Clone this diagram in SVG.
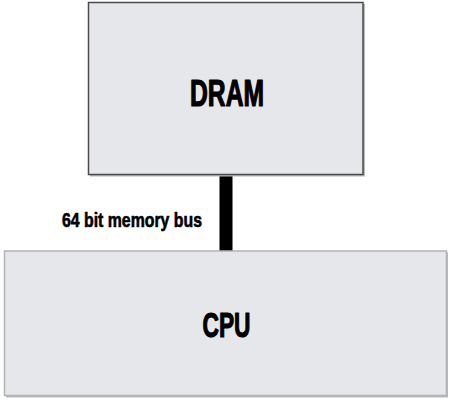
<svg xmlns="http://www.w3.org/2000/svg" width="452" height="406" viewBox="0 0 452 406">
<style>
.box{fill:#e6e7eb}
.shadow{fill:#b9b9bb}
.lbl{font-family:"Liberation Sans Narrow","Liberation Sans",Arial,sans-serif;font-weight:bold;fill:#000;stroke:#000;stroke-linejoin:round}
</style>
<rect width="452" height="406" fill="#ffffff"/>
<g id="connectors">
<rect x="219.5" y="175" width="13" height="76" fill="#000000"/>
<text class="lbl" x="62" y="226.5" font-size="20" stroke-width="0.6" textLength="140" lengthAdjust="spacingAndGlyphs">64 bit memory bus</text>
</g>
<g id="dram">
<rect class="shadow" x="90" y="4" width="275" height="172.5"/>
<rect class="box" x="88.5" y="2.5" width="274.5" height="172" stroke="#4a4a4a" stroke-width="1.5"/>
<text class="lbl" x="190" y="106" font-size="36" stroke-width="1.2" textLength="74" lengthAdjust="spacingAndGlyphs">DRAM</text>
</g>
<g id="cpu">
<rect class="shadow" x="6" y="252.5" width="442" height="145"/>
<rect class="box" x="4.5" y="251" width="442" height="144.5" stroke="#b3b3b5" stroke-width="1.5"/>
<text class="lbl" x="202.5" y="336.5" font-size="35" stroke-width="1.2" textLength="48" lengthAdjust="spacingAndGlyphs">CPU</text>
</g>
</svg>
